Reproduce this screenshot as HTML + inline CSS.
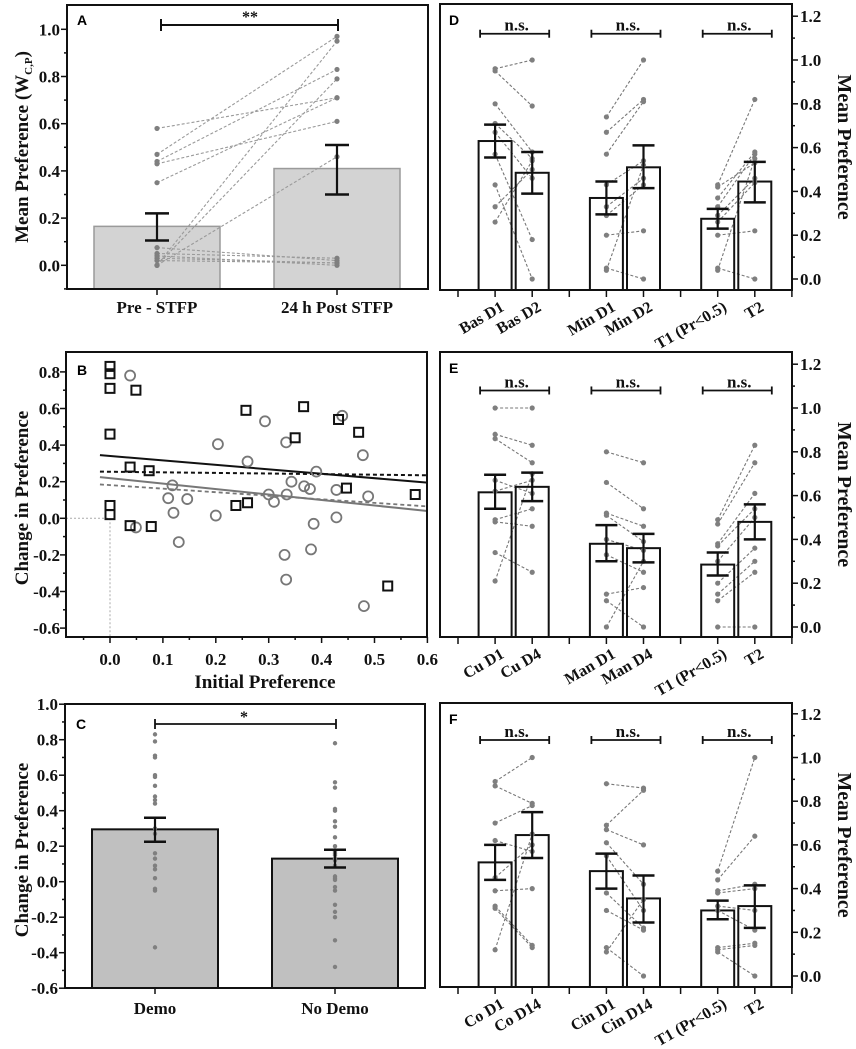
<!DOCTYPE html>
<html><head><meta charset="utf-8"><style>
html,body{margin:0;padding:0;background:#fff;}
svg{display:block;font-family:"Liberation Serif",serif;}
</style></head><body>
<svg id="fig" width="856" height="1049" viewBox="0 0 856 1049" xmlns="http://www.w3.org/2000/svg"></svg>
<script>
// ---------- Panel A data ----------
const aCategories = ["Pre - STFP", "24 h Post STFP"];
const aMeans = [0.165, 0.41];
const aErrLow = [0.105, 0.30];
const aErrHigh = [0.22, 0.51];
const aPre = [0.58, 0.47, 0.44, 0.43, 0.35, 0.075, 0.05, 0.04, 0.03, 0.02, 0.0, 0.0, 0.0];
const aPost = [0.71, 0.97, 0.83, 0.61, 0.71, 0.02, 0.03, 0.0, 0.01, 0.01, 0.95, 0.79, 0.46];
const aTicks = [0.0, 0.2, 0.4, 0.6, 0.8, 1.0];
// ---------- Panel B data ----------
const bSqX = [0,0,0,0,0,0,0.038,0.038,0.049,0.074,0.078,0.238,0.257,0.26,0.35,0.366,0.432,0.447,0.47,0.525,0.577];
const bSqY = [0.83,0.79,0.71,0.46,0.07,0.02,0.28,-0.04,0.70,0.26,-0.045,0.07,0.59,0.085,0.44,0.61,0.54,0.165,0.47,-0.37,0.13];
const bCiX = [0.038,0.049,0.11,0.118,0.12,0.13,0.146,0.2,0.204,0.26,0.293,0.3,0.31,0.33,0.333,0.333,0.334,0.343,0.367,0.378,0.38,0.385,0.39,0.428,0.428,0.439,0.478,0.48,0.488];
const bCiY = [0.78,-0.05,0.11,0.18,0.03,-0.13,0.105,0.015,0.405,0.31,0.53,0.13,0.09,-0.2,0.415,-0.335,0.13,0.2,0.175,0.16,-0.17,-0.03,0.255,0.005,0.155,0.56,0.345,-0.48,0.12];
const bFitBlack = [0.345, 0.195];
const bFitBlackDash = [0.255, 0.235];
const bFitGray = [0.225, 0.04];
const bFitGrayDash = [0.185, 0.065];
const bXTicks = [0.0, 0.1, 0.2, 0.3, 0.4, 0.5, 0.6];
const bYTicks = [-0.6, -0.4, -0.2, 0.0, 0.2, 0.4, 0.6, 0.8];
// ---------- Panel C data ----------
const cCategories = ["Demo", "No Demo"];
const cMeans = [0.295, 0.13];
const cErrLow = [0.225, 0.08];
const cErrHigh = [0.36, 0.18];
const cDemo = [0.83,0.79,0.71,0.70,0.60,0.59,0.54,0.48,0.46,0.44,0.30,0.27,0.16,0.13,0.09,0.07,0.02,-0.04,-0.05,-0.37];
const cNoDemo = [0.78,0.56,0.53,0.41,0.40,0.34,0.31,0.25,0.20,0.17,0.16,0.15,0.13,0.12,0.09,0.03,0.02,0.01,-0.03,-0.05,-0.13,-0.17,-0.2,-0.33,-0.48];
const cTicks = [-0.6,-0.4,-0.2,0.0,0.2,0.4,0.6,0.8,1.0];
// ---------- Panels D/E/F data ----------
const rTicks = [0.0,0.2,0.4,0.6,0.8,1.0,1.2];
const dLabels = ["Bas D1","Bas D2","Min D1","Min D2","T1 (Pr<0.5)","T2"];
const dMeans = [0.63,0.485,0.37,0.51,0.275,0.445];
const dErrLow = [0.555,0.39,0.295,0.415,0.23,0.35];
const dErrHigh = [0.705,0.58,0.445,0.61,0.32,0.535];
const dPts = [
 [0.96,0.95,0.80,0.71,0.67,0.57,0.43,0.33,0.26],[1.0,0.79,0.58,0.55,0.46,0.18,0.0,0.5,0.54],
 [0.74,0.67,0.57,0.43,0.33,0.29,0.20,0.05,0.04],[1.0,0.82,0.81,0.54,0.46,0.43,0.22,0.0,0.52],
 [0.43,0.37,0.33,0.29,0.26,0.20,0.05,0.04,0.42],[0.82,0.58,0.57,0.46,0.44,0.22,0.0,0.55,0.53]];
const eLabels = ["Cu D1","Cu D4","Man D1","Man D4","T1 (Pr<0.5)","T2"];
const eMeans = [0.615,0.64,0.38,0.36,0.285,0.48];
const eErrLow = [0.54,0.575,0.30,0.295,0.235,0.40];
const eErrHigh = [0.695,0.705,0.465,0.425,0.34,0.56];
const ePts = [
 [1.0,0.88,0.86,0.67,0.49,0.48,0.34,0.21,0.62],[1.0,0.83,0.75,0.61,0.54,0.46,0.25,0.70,0.67],
 [0.80,0.66,0.52,0.51,0.33,0.15,0.12,0.0,0.40],[0.75,0.54,0.46,0.39,0.25,0.18,0.0,0.30,0.35],
 [0.49,0.47,0.38,0.37,0.20,0.15,0.12,0.0,0.30],[0.83,0.75,0.61,0.54,0.36,0.30,0.25,0.0,0.50]];
const fLabels = ["Co D1","Co D14","Cin D1","Cin D14","T1 (Pr<0.5)","T2"];
const fMeans = [0.52,0.645,0.48,0.355,0.30,0.32];
const fErrLow = [0.44,0.54,0.40,0.245,0.26,0.22];
const fErrHigh = [0.60,0.75,0.56,0.46,0.345,0.415];
const fPts = [
 [0.89,0.87,0.70,0.62,0.39,0.32,0.31,0.12,0.45],[1.0,0.79,0.78,0.57,0.40,0.14,0.13,0.65,0.60],
 [0.88,0.69,0.67,0.61,0.38,0.30,0.13,0.11,0.55],[0.86,0.85,0.60,0.42,0.22,0.21,0.0,0.35,0.30],
 [0.48,0.44,0.39,0.38,0.30,0.13,0.12,0.11,0.32],[1.0,0.64,0.42,0.40,0.21,0.15,0.14,0.0,0.30]];

const NS = "http://www.w3.org/2000/svg";
const svg = document.getElementById("fig");
function el(tag, attrs, parent, txt) {
  const e = document.createElementNS(NS, tag);
  for (const k in attrs) e.setAttribute(k, attrs[k]);
  if (txt !== undefined) e.textContent = txt;
  (parent || svg).appendChild(e);
  return e;
}
function grp(name) {
  const g = el("g", {});
  
  
  return g;
}
function line(g, x1, y1, x2, y2, st, w, dash) {
  const a = {x1, y1, x2, y2, stroke: st, "stroke-width": w};
  if (dash) a["stroke-dasharray"] = dash;
  return el("line", a, g);
}
function txt(g, x, y, s, size, anchor, extra) {
  const a = {x, y, "font-size": size, "font-weight": "bold", "text-anchor": anchor || "middle", fill: "#111"};
  for (const k in (extra || {})) a[k] = extra[k];
  return el("text", a, g, s);
}
function errBar(g, x, yLo, yHi, cap) {
  line(g, x, yLo, x, yHi, "#111", 2.2);
  line(g, x - cap, yLo, x + cap, yLo, "#111", 2.5);
  line(g, x - cap, yHi, x + cap, yHi, "#111", 2.5);
}
function dot(g, x, y, r) { return el("circle", {cx: x, cy: y, r: r, fill: "#7f7f7f"}, g); }

// ===== Panel A =====
(function () {
  const g = grp("panel-a");
  const L = 67, R = 428, T = 5, B = 289;
  const y = v => 265.3 - v * 236;
  const xc = [157, 337];
  for (let i = 0; i < 2; i++) {
    const r = el("rect", {x: xc[i] - 63, y: y(aMeans[i]), width: 126, height: B - y(aMeans[i]), fill: "#d3d3d3", stroke: "#9a9a9a", "stroke-width": 1.5}, g);
    
    
  }
  for (let i = 0; i < aPre.length; i++) {
    line(g, xc[0], y(aPre[i]), xc[1], y(aPost[i]), "#9a9a9a", 1.1, "3,2");
  }
  for (let i = 0; i < aPre.length; i++) { dot(g, xc[0], y(aPre[i]), 2.6); dot(g, xc[1], y(aPost[i]), 2.6); }
  for (let i = 0; i < 2; i++) errBar(g, xc[i], y(aErrLow[i]), y(aErrHigh[i]), 12);
  el("rect", {x: L, y: T, width: R - L, height: B - T, fill: "none", stroke: "#111", "stroke-width": 2}, g);
  for (let k = 0; k <= 10; k++) { const v = k / 10; line(g, L, y(v), L - (k % 2 ? 3 : 6), y(v), "#111", 1.5); }
  line(g, L, y(-0.1), L - 3, y(-0.1), "#111", 1.5);
  aTicks.forEach(v => txt(g, 60, y(v) + 6, v.toFixed(1), 17, "end"));
  xc.forEach((x, i) => { line(g, x, B, x, B + 6, "#111", 1.5); txt(g, x, 313, aCategories[i], 17); });
  const t = txt(g, 0, 0, "", 19, "middle", {transform: "translate(28,147) rotate(-90)"});
  
  
  el("tspan", {}, t, "Mean Preference (W");
  el("tspan", {"font-size": 11, dy: 4}, t, "C,P");
  el("tspan", {dy: -4}, t, ")");
  line(g, 161, 25, 338, 25, "#111", 2); line(g, 161, 19, 161, 31, "#111", 2); line(g, 338, 19, 338, 31, "#111", 2);
  txt(g, 250, 22, "**", 16);
  el("text", {x: 77, y: 25, "font-size": 14, "font-weight": "bold", "font-family": "Liberation Sans, sans-serif"}, g, "A");
})();

// ===== Panel B =====
(function () {
  const g = grp("panel-b");
  const L = 66, R = 427, T = 352, B = 637;
  const x = v => 110 + v * 529;
  const y = v => 518.3 - v * 183;
  line(g, x(0), y(0), x(0), B, "#aaa", 1, "2,2");
  line(g, L, y(0), x(0), y(0), "#aaa", 1, "2,2");
  const x0 = -0.019, x1 = 0.6;
  line(g, x(x0), y(bFitBlack[0]), x(x1), y(bFitBlack[1]), "#111", 2);
  line(g, x(x0), y(bFitBlackDash[0]), x(x1), y(bFitBlackDash[1]), "#111", 2, "4,3");
  line(g, x(x0), y(bFitGray[0]), x(x1), y(bFitGray[1]), "#777", 2);
  line(g, x(x0), y(bFitGrayDash[0]), x(x1), y(bFitGrayDash[1]), "#777", 1.8, "4,3");
  for (let i = 0; i < bCiX.length; i++) el("circle", {cx: x(bCiX[i]), cy: y(bCiY[i]), r: 5, fill: "none", stroke: "#777", "stroke-width": 1.8}, g);
  for (let i = 0; i < bSqX.length; i++) el("rect", {x: x(bSqX[i]) - 4.5, y: y(bSqY[i]) - 4.5, width: 9, height: 9, fill: "none", stroke: "#111", "stroke-width": 2}, g);
  el("rect", {x: L, y: T, width: R - L, height: B - T, fill: "none", stroke: "#111", "stroke-width": 2}, g);
  for (let k = -6; k <= 8; k++) line(g, L, y(k / 10), L - (k % 2 ? 3 : 6), y(k / 10), "#111", 1.5);
  bYTicks.forEach(v => txt(g, 60, y(v) + 6, v.toFixed(1), 17, "end"));
  for (let k = -1; k <= 12; k++) { const v = k * 0.05; line(g, x(v), B, x(v), B + (k % 2 ? 3 : 6), "#111", 1.5); }
  bXTicks.forEach(v => txt(g, x(v), 665, v.toFixed(1), 17));
  txt(g, 265, 688, "Initial Preference", 19);
  txt(g, 0, 0, "Change in Preference", 19, "middle", {transform: "translate(28,498) rotate(-90)"});
  el("text", {x: 77, y: 375, "font-size": 14, "font-weight": "bold", "font-family": "Liberation Sans, sans-serif"}, g, "B");
})();

// ===== Panel C =====
(function () {
  const g = grp("panel-c");
  const L = 65, R = 425, T = 704, B = 988;
  const y = v => 881.7 - v * 177.5;
  const xc = [155, 335];
  for (let i = 0; i < 2; i++) {
    const r = el("rect", {x: xc[i] - 63, y: y(cMeans[i]), width: 126, height: B - y(cMeans[i]), fill: "#c0c0c0", stroke: "#111", "stroke-width": 2}, g);
    
    
  }
  cDemo.forEach(v => dot(g, xc[0], y(v), 2.2));
  cNoDemo.forEach(v => dot(g, xc[1], y(v), 2.2));
  for (let i = 0; i < 2; i++) errBar(g, xc[i], y(cErrLow[i]), y(cErrHigh[i]), 11);
  el("rect", {x: L, y: T, width: R - L, height: B - T, fill: "none", stroke: "#111", "stroke-width": 2}, g);
  for (let k = -6; k <= 10; k++) line(g, L, y(k / 10), L - (k % 2 ? 3 : 6), y(k / 10), "#111", 1.5);
  cTicks.forEach(v => txt(g, 58, y(v) + 6, v.toFixed(1), 17, "end"));
  xc.forEach((x, i) => { line(g, x, B, x, B + 6, "#111", 1.5); txt(g, x, 1014, cCategories[i], 17); });
  txt(g, 0, 0, "Change in Preference", 19, "middle", {transform: "translate(28,850) rotate(-90)"});
  line(g, 155, 724, 336, 724, "#111", 1.8); line(g, 155, 719, 155, 729, "#111", 1.8); line(g, 336, 719, 336, 729, "#111", 1.8);
  txt(g, 244, 722, "*", 16);
  el("text", {x: 76, y: 729, "font-size": 14, "font-weight": "bold", "font-family": "Liberation Sans, sans-serif"}, g, "C");
})();

// ===== Panels D/E/F =====
function rightPanel(name, letter, T, B, y0, k, sigV, labels, means, lo, hi, pts) {
  const g = grp(name);
  const L = 440, R = 792;
  const x = i => 458 + 37.1 * i;
  const y = v => y0 - v * k;
  const pos = [1, 2, 4, 5, 7, 8];
  for (let p = 0; p < 6; p += 2) {
    const a = pts[p], b = pts[p + 1];
    for (let j = 0; j < a.length; j++) line(g, x(pos[p]), y(a[j]), x(pos[p + 1]), y(b[j]), "#777", 1.1, "3,2");
  }
  for (let p = 0; p < 6; p++) {
    const r = el("rect", {x: x(pos[p]) - 16.5, y: y(means[p]), width: 33, height: B - y(means[p]), fill: "none", stroke: "#111", "stroke-width": 2}, g);
    
    
  }
  for (let p = 0; p < 6; p++) pts[p].forEach(v => dot(g, x(pos[p]), y(v), 2.6));
  for (let p = 0; p < 6; p++) errBar(g, x(pos[p]), y(lo[p]), y(hi[p]), 11);
  el("rect", {x: L, y: T, width: R - L, height: B - T, fill: "none", stroke: "#111", "stroke-width": 2}, g);
  for (let m = 0; m <= 12; m++) line(g, R, y(m / 10), R + (m % 2 ? 3 : 6), y(m / 10), "#111", 1.5);
  rTicks.forEach(v => txt(g, 800, y(v) + 6, v.toFixed(1), 17, "start"));
  for (let i = 0; i <= 9; i++) line(g, x(i), B, x(i), B + 7, "#111", 1.5);
  pos.forEach((pi, p) => txt(g, 0, 0, labels[p], 16, "end", {transform: `translate(${x(pi) + 10},${B + 20}) rotate(-30)`}));
  txt(g, 0, 0, "Mean Preference", 20, "middle", {transform: `translate(838,${(T + B) / 2}) rotate(90)`});
  for (let p = 0; p < 6; p += 2) {
    const xa = x(pos[p]) - 15, xb = x(pos[p + 1]) + 17, yy = y(sigV);
    line(g, xa, yy, xb, yy, "#111", 1.8); line(g, xa, yy - 4, xa, yy + 4, "#111", 1.8); line(g, xb, yy - 4, xb, yy + 4, "#111", 1.8);
    txt(g, (xa + xb) / 2 + 2, yy - 3, "n.s.", 17);
  }
  el("text", {x: 449, y: T + 21, "font-size": 14, "font-weight": "bold", "font-family": "Liberation Sans, sans-serif"}, g, letter);
}
rightPanel("panel-d", "D", 4, 290, 279, 219, 1.12, dLabels, dMeans, dErrLow, dErrHigh, dPts);
rightPanel("panel-e", "E", 352, 637, 627, 219, 1.08, eLabels, eMeans, eErrLow, eErrHigh, ePts);
rightPanel("panel-f", "F", 703, 987, 976, 218.5, 1.08, fLabels, fMeans, fErrLow, fErrHigh, fPts);
</script>
</body></html>
